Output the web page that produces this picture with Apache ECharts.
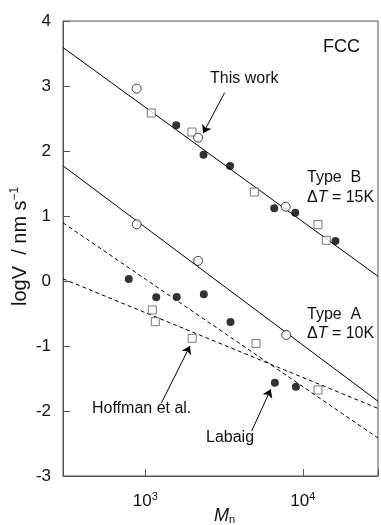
<!DOCTYPE html>
<html><head><meta charset="utf-8">
<script src="https://cdn.jsdelivr.net/npm/echarts@6/dist/echarts.min.js"></script>
<style>html,body{margin:0;padding:0;background:#fff}#c{width:381px;height:525px}</style>
</head><body><div id="c"></div>
<script>
// ---- data ----
const xRange = [300, 30000];
const yRange = [-3, 4];
const yTicks = [-3, -2, -1, 0, 1, 2, 3, 4];
const xTickLabels = ['10^3', '10^4'];

// open circles: "This work"
const openM    = [881, 2163, 7780, 881, 2163, 7850];
const openLogV = [2.96, 2.205, 1.143, 0.872, 0.31, -0.83];
// filled circles
const filledM    = [1570, 2340, 3450, 6580, 8950, 16100, 785, 1172, 1582, 2350, 3472, 6640, 9030];
const filledLogV = [2.395, 1.943, 1.769, 1.118, 1.051, 0.615, 0.03, -0.25, -0.246, -0.205, -0.63, -1.564, -1.626];
// open squares
const squareM    = [1091, 1977, 4920, 12480, 14070, 1107, 1156, 1983, 5040, 12480];
const squareLogV = [2.585, 2.292, 1.369, 0.867, 0.626, -0.446, -0.626, -0.882, -0.96, -1.677];

// fitted lines (values at the two ends of the axis)
const lineEndsM   = [300, 30000];
const typeBLine   = [3.592, 0.072];
const typeALine   = [1.772, -1.850];
const dashedUpper = [0.895, -2.415];
const dashedLower = [0.034, -1.960];

// annotation arrows: [tailM, tailLogV, tipM, tipLogV]
const arrowThisWork = [3186, 2.897, 2327, 2.272];
const arrowHoffman  = [1261, -1.882, 1919, -1.0];
const arrowLabaig   = [4733, -2.308, 6252, -1.666];

// ---- chart ----
const FONT = 'Liberation Sans';
const pts = (xs, ys) => xs.map((x, i) => [x, ys[i]]);
const arrowLine = a => [{coord: [a[0], a[1]]}, {coord: [a[2], a[3]]}];

const chart = echarts.init(document.getElementById('c'), null, {renderer: 'canvas'});
const supRich = {
  b: {fontSize: 17, fontFamily: FONT, color: '#111'},
  s: {fontSize: 11, fontFamily: FONT, color: '#111', verticalAlign: 'bottom', padding: [0, 0, 9, 0]}
};
const lineSeries = (vals, dashed) => ({
  type: 'line', data: pts(lineEndsM, vals), symbol: 'none', silent: true,
  lineStyle: {color: '#000', width: 1, type: dashed ? [4, 3] : 'solid'}, z: 1, animation: false
});
const txt = (l, t, s, size) => ({type: 'text', left: l, top: t, style: {text: s, font: size + 'px "Liberation Sans"', fill: '#111'}});
const dtRich = {n: {fontSize: 16, fontFamily: FONT, fill: '#111'}, i: {fontSize: 16, fontFamily: FONT, fontStyle: 'italic', fill: '#111'}};

chart.setOption({
  animation: false,
  grid: {left: 63, top: 21, width: 320, height: 455, show: true, borderColor: '#555', borderWidth: 1, backgroundColor: 'transparent'},
  xAxis: {
    type: 'log', logBase: 10, min: xRange[0], max: xRange[1],
    axisLine: {onZero: false, lineStyle: {color: '#555', width: 1}},
    axisTick: {inside: true, length: 7, lineStyle: {color: '#555'}},
    minorTick: {show: false}, splitLine: {show: false},
    axisLabel: {
      margin: 15,
      formatter: v => {
        const e = Math.log10(v);
        if (Math.abs(e - Math.round(e)) > 1e-6) return '';
        const lbl = xTickLabels.find(t => t === '10^' + Math.round(e));
        if (!lbl) return '';
        return '{b|10}{s|' + Math.round(e) + '}';
      },
      rich: supRich
    }
  },
  yAxis: {
    type: 'value', min: yRange[0], max: yRange[1], interval: 1,
    axisLine: {show: true, onZero: false, lineStyle: {color: '#555', width: 1}},
    axisTick: {show: true, inside: true, length: 7, lineStyle: {color: '#555'}},
    splitLine: {show: false},
    axisLabel: {margin: 12, fontSize: 17, fontFamily: FONT, color: '#111',
      formatter: v => yTicks.includes(v) ? String(v) : ''}
  },
  graphic: [
    txt(323, 38, 'FCC', 18),
    txt(210, 71, 'This work', 16),
    txt(307, 170, 'Type  B', 16),
    {type: 'text', left: 307, top: 190, style: {text: '{n|Δ}{i|T}{n| = 15K}', rich: dtRich}},
    txt(307, 307, 'Type  A', 16),
    {type: 'text', left: 307, top: 326, style: {text: '{n|Δ}{i|T}{n| = 10K}', rich: dtRich}},
    txt(92, 401, 'Hoffman et al.', 16),
    txt(206, 430, 'Labaig', 16),
    {type: 'text', x: 214, y: 507, style: {text: '{m|M}{n|n}', rich: {m: {fontSize: 18, fontFamily: FONT, fontStyle: 'italic', fill: '#111'}, n: {fontSize: 11, fontFamily: FONT, fill: '#111', verticalAlign: 'bottom'}}}},
    {type: 'text', x: 9, y: 306, rotation: Math.PI / 2,
      style: {text: '{n|log}{i|V}{n|  / nm s}{s|−1}', rich: {
        n: {fontSize: 20, fontFamily: FONT, fill: '#111'},
        i: {fontSize: 20, fontFamily: FONT, fill: '#111'},
        s: {fontSize: 12, fontFamily: FONT, fill: '#111', verticalAlign: 'bottom', padding: [0, 0, 10, 0]}}}}
  ],
  series: [
    lineSeries(typeBLine, false),
    lineSeries(typeALine, false),
    lineSeries(dashedUpper, true),
    lineSeries(dashedLower, true),
    {type: 'scatter', data: pts(squareM, squareLogV), symbol: 'rect', symbolSize: 8, z: 3,
      itemStyle: {color: '#fff', borderColor: '#555', borderWidth: 1}},
    {type: 'scatter', data: pts(filledM, filledLogV), symbol: 'circle', symbolSize: 8, z: 3,
      itemStyle: {color: '#000'}},
    {type: 'scatter', data: pts(openM, openLogV), symbol: 'circle', symbolSize: 9, z: 4,
      itemStyle: {color: '#fff', borderColor: '#111', borderWidth: 1},
      markLine: {silent: true, symbol: ['none', 'arrow'], symbolSize: 8, label: {show: false},
        lineStyle: {color: '#000', width: 1, type: 'solid'}, animation: false,
        data: [arrowLine(arrowThisWork), arrowLine(arrowHoffman), arrowLine(arrowLabaig)]}}
  ]
});
</script></body></html>
